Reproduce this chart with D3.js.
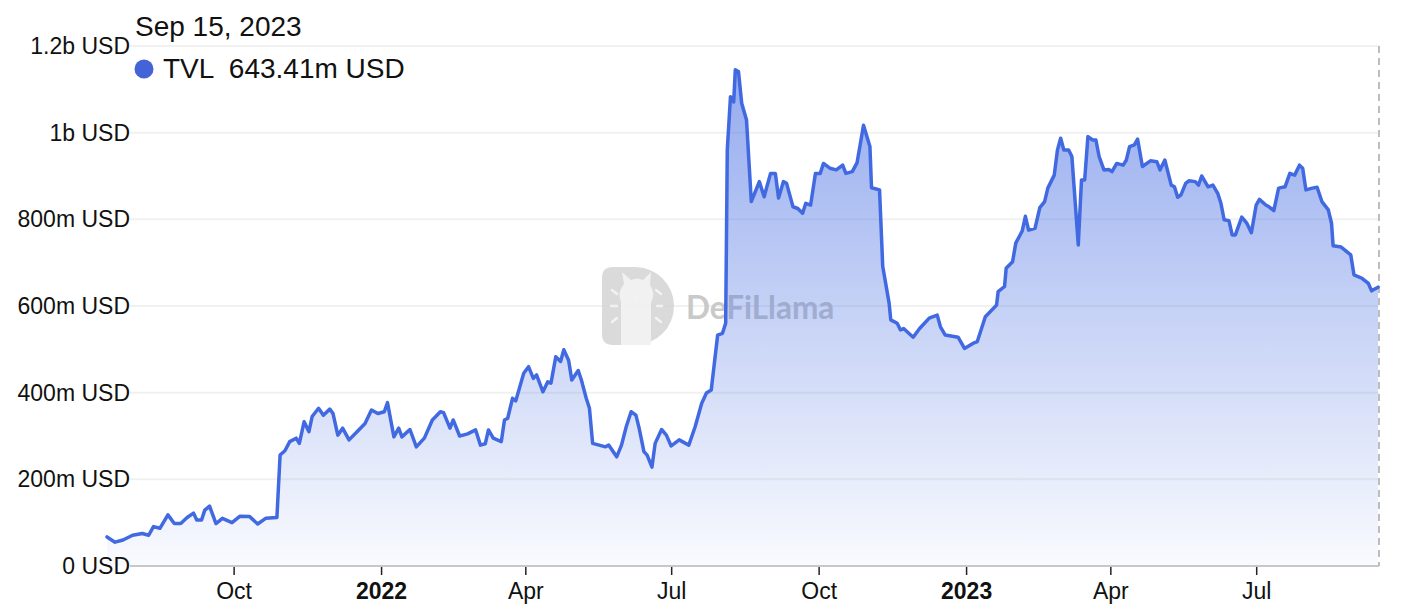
<!DOCTYPE html>
<html><head><meta charset="utf-8">
<script src="https://cdn.jsdelivr.net/npm/d3@7"></script>
<style>
body{margin:0;background:#fff;}
svg{display:block;font-family:"Liberation Sans",Arial,Helvetica,sans-serif;}
</style>
</head><body>
<svg id="c" width="1401" height="613"></svg>
<script>
const dates = ["2021-07-14","2021-07-19","2021-07-24","2021-07-30","2021-08-05","2021-08-09","2021-08-12","2021-08-16","2021-08-21","2021-08-25","2021-08-29","2021-09-02","2021-09-06","2021-09-08","2021-09-11","2021-09-13","2021-09-16","2021-09-20","2021-09-24","2021-09-30","2021-10-05","2021-10-11","2021-10-16","2021-10-21","2021-10-28","2021-10-30","2021-11-02","2021-11-05","2021-11-09","2021-11-11","2021-11-14","2021-11-17","2021-11-19","2021-11-23","2021-11-26","2021-11-30","2021-12-02","2021-12-05","2021-12-08","2021-12-12","2021-12-17","2021-12-22","2021-12-26","2021-12-30","2022-01-03","2022-01-05","2022-01-09","2022-01-12","2022-01-14","2022-01-19","2022-01-23","2022-01-28","2022-02-02","2022-02-07","2022-02-09","2022-02-13","2022-02-15","2022-02-19","2022-02-24","2022-03-01","2022-03-04","2022-03-07","2022-03-09","2022-03-12","2022-03-17","2022-03-19","2022-03-21","2022-03-24","2022-03-26","2022-03-31","2022-04-03","2022-04-06","2022-04-08","2022-04-12","2022-04-15","2022-04-17","2022-04-20","2022-04-23","2022-04-25","2022-04-28","2022-04-30","2022-05-04","2022-05-06","2022-05-09","2022-05-11","2022-05-13","2022-05-17","2022-05-21","2022-05-23","2022-05-28","2022-05-31","2022-06-03","2022-06-06","2022-06-09","2022-06-11","2022-06-14","2022-06-16","2022-06-19","2022-06-21","2022-06-25","2022-06-28","2022-07-01","2022-07-06","2022-07-12","2022-07-16","2022-07-20","2022-07-23","2022-07-26","2022-07-30","2022-08-02","2022-08-04","2022-08-05","2022-08-07","2022-08-09","2022-08-10","2022-08-12","2022-08-14","2022-08-17","2022-08-20","2022-08-25","2022-08-28","2022-09-01","2022-09-04","2022-09-06","2022-09-09","2022-09-11","2022-09-15","2022-09-18","2022-09-21","2022-09-23","2022-09-26","2022-09-29","2022-10-02","2022-10-04","2022-10-08","2022-10-12","2022-10-16","2022-10-18","2022-10-22","2022-10-25","2022-10-29","2022-11-02","2022-11-03","2022-11-08","2022-11-10","2022-11-14","2022-11-15","2022-11-19","2022-11-21","2022-11-23","2022-11-29","2022-12-03","2022-12-09","2022-12-14","2022-12-16","2022-12-19","2022-12-27","2022-12-31","2023-01-06","2023-01-08","2023-01-13","2023-01-20","2023-01-21","2023-01-25","2023-01-26","2023-01-30","2023-02-01","2023-02-05","2023-02-07","2023-02-09","2023-02-13","2023-02-16","2023-02-19","2023-02-21","2023-02-25","2023-02-27","2023-03-01","2023-03-03","2023-03-06","2023-03-08","2023-03-12","2023-03-14","2023-03-16","2023-03-18","2023-03-21","2023-03-23","2023-03-25","2023-03-28","2023-03-31","2023-04-02","2023-04-05","2023-04-09","2023-04-11","2023-04-13","2023-04-16","2023-04-18","2023-04-21","2023-04-26","2023-04-30","2023-05-02","2023-05-05","2023-05-09","2023-05-11","2023-05-13","2023-05-15","2023-05-18","2023-05-20","2023-05-24","2023-05-26","2023-05-28","2023-06-01","2023-06-04","2023-06-07","2023-06-09","2023-06-11","2023-06-14","2023-06-16","2023-06-18","2023-06-22","2023-06-25","2023-06-28","2023-07-01","2023-07-03","2023-07-07","2023-07-09","2023-07-12","2023-07-15","2023-07-19","2023-07-22","2023-07-25","2023-07-28","2023-07-30","2023-08-01","2023-08-05","2023-08-08","2023-08-11","2023-08-15","2023-08-17","2023-08-18","2023-08-23","2023-08-29","2023-08-31","2023-09-05","2023-09-09","2023-09-11","2023-09-15"];
// TVL in millions of USD
const tvlMillions = [67,55,60,71,75,71,91,87,118,98,98,112,122,106,106,129,138,98,110,100,115,114,97,110,112,256,266,287,295,283,333,310,345,364,348,362,352,302,318,291,310,329,360,352,356,377,298,318,298,315,275,295,337,356,354,318,337,300,305,314,279,282,314,295,287,337,341,387,381,445,460,433,441,402,425,422,483,472,499,475,429,451,429,387,364,283,279,275,279,252,279,322,356,348,318,264,256,228,283,315,302,277,291,279,322,375,399,406,533,537,560,960,1083,1071,1145,1141,1068,1029,841,887,852,906,906,849,887,883,829,825,814,837,833,906,906,929,918,914,925,906,910,931,1017,968,873,868,691,606,568,560,545,548,528,548,572,579,552,533,528,502,515,518,575,602,633,645,687,702,745,773,807,775,779,827,841,872,902,960,987,960,960,945,741,891,891,991,983,983,945,914,915,910,929,925,937,968,972,985,922,935,933,914,937,879,875,851,856,883,889,887,879,900,875,879,860,837,799,797,764,764,805,792,769,833,846,833,829,820,872,875,906,902,925,918,868,872,874,841,822,791,739,736,718,672,664,652,635,643.41];

const yTickValues = [0, 200, 400, 600, 800, 1000, 1200];
const yTickLabels = ["0 USD","200m USD","400m USD","600m USD","800m USD","1b USD","1.2b USD"];
const xTickDates = ["2021-10-01","2022-01-01","2022-04-01","2022-07-01","2022-10-01","2023-01-01","2023-04-01","2023-07-01"];
const xTickLabels = ["Oct","2022","Apr","Jul","Oct","2023","Apr","Jul"];
const boldTicks = ["2022","2023"];
const legendDate = "Sep 15, 2023";
const legendSeries = "TVL";
const legendValue = "643.41m USD";

const parse = d3.timeParse("%Y-%m-%d");
const data = dates.map((d,i)=>({date: parse(d), v: tvlMillions[i]}));

const svg = d3.select("#c");
const color = "#4169E1";

const x = d3.scaleTime()
  .domain([parse("2021-07-14"), parse("2023-09-15")])
  .range([107, 1378]);
const y = d3.scaleLinear().domain([0, 1200]).range([566, 46]);

const defs = svg.append("defs");
const grad = defs.append("linearGradient")
  .attr("id","fillGrad").attr("gradientUnits","userSpaceOnUse")
  .attr("x1",0).attr("x2",0)
  .attr("y1", y(d3.max(tvlMillions))).attr("y2", y(0));
grad.append("stop").attr("offset","0%").attr("stop-color",color).attr("stop-opacity",0.56);
grad.append("stop").attr("offset","100%").attr("stop-color",color).attr("stop-opacity",0.03);

// gridlines
svg.append("g").selectAll("line").data(yTickValues.slice(1)).join("line")
  .attr("x1",130).attr("x2",1379)
  .attr("y1",d=>y(d)).attr("y2",d=>y(d))
  .attr("stroke","#f1f1f1").attr("stroke-width",2);

// watermark
const wm = svg.append("g").attr("opacity",0.9);
wm.append("path")
  .attr("d","M602,278 q0,-11 11,-11 h22 a39,39 0 0 1 0,78 h-22 q-11,0 -11,-11 z")
  .attr("fill","#d6d6d6");
wm.append("path")
  .attr("d","M621,345 V302 Q617,292 624,284 L622,272 L631,280 Q637,277 643,280 L651,272 L650,285 Q656,293 651,303 V345 Z")
  .attr("fill","#f0f0f0");
[[611,306,617,306],[612,290,617,294],[612,322,617,318],[656,290,661,294],[657,306,662,306],[656,318,661,322],[636,297,638,300]].forEach(s=>{
  wm.append("line").attr("x1",s[0]).attr("y1",s[1]).attr("x2",s[2]).attr("y2",s[3])
    .attr("stroke","#f2f2f2").attr("stroke-width",2.5).attr("stroke-linecap","round");
});
wm.append("text").attr("x",686).attr("y",319)
  .attr("font-size",31.5).attr("font-weight","bold")
  .attr("font-family","Lato, 'Open Sans', sans-serif")
  .attr("fill","#c4c4c4").text("DeFiLlama");

// area
const area = d3.area().x(d=>x(d.date)).y0(y(0)).y1(d=>y(d.v));
svg.append("path").datum(data).attr("d",area).attr("fill","url(#fillGrad)");

// x axis
const xAxis = d3.axisBottom(x)
  .tickValues(xTickDates.map(parse))
  .tickFormat((d,i)=>xTickLabels[i])
  .tickSize(9).tickPadding(8);
const gx = svg.append("g").attr("transform","translate(0,566)").call(xAxis);
gx.select(".domain").remove();
gx.append("line").attr("x1",130).attr("x2",1379).attr("y1",0).attr("y2",0)
  .attr("stroke","#c8c8c8").attr("stroke-width",2);
gx.selectAll(".tick line").attr("stroke","#222").attr("stroke-width",1.5);
gx.selectAll(".tick text")
  .attr("font-size",23).attr("fill","#111")
  .attr("font-family","'Liberation Sans',Arial,sans-serif")
  .attr("font-weight",(d,i)=>boldTicks.includes(xTickLabels[i])?"bold":"normal");

// y axis labels
const yAxis = d3.axisLeft(y).tickValues(yTickValues)
  .tickFormat((d,i)=>yTickLabels[i]).tickSize(0).tickPadding(0);
const gy = svg.append("g").attr("transform","translate(130,0)").call(yAxis);
gy.select(".domain").remove();
gy.selectAll(".tick text").attr("font-size",23).attr("fill","#111")
  .attr("font-family","'Liberation Sans',Arial,sans-serif");

// dashed right line
svg.append("line").attr("x1",1379).attr("x2",1379).attr("y1",y(1200)).attr("y2",y(0))
  .attr("stroke","#bdbdbd").attr("stroke-width",2).attr("stroke-dasharray","7,5");

// line
const line = d3.line().x(d=>x(d.date)).y(d=>y(d.v));
svg.append("path").datum(data).attr("d",line)
  .attr("fill","none").attr("stroke",color).attr("stroke-width",3.5)
  .attr("stroke-linejoin","round").attr("stroke-linecap","round");

// legend / tooltip
svg.append("text").attr("x",135).attr("y",36).attr("font-size",28).attr("fill","#111").text(legendDate);
svg.append("circle").attr("cx",144).attr("cy",69).attr("r",9.5).attr("fill","#4463D6");
svg.append("text").attr("x",163).attr("y",78).attr("font-size",28).attr("fill","#111")
  .attr("xml:space","preserve").style("white-space","pre").text(legendSeries + "  " + legendValue);
</script>
</body></html>
